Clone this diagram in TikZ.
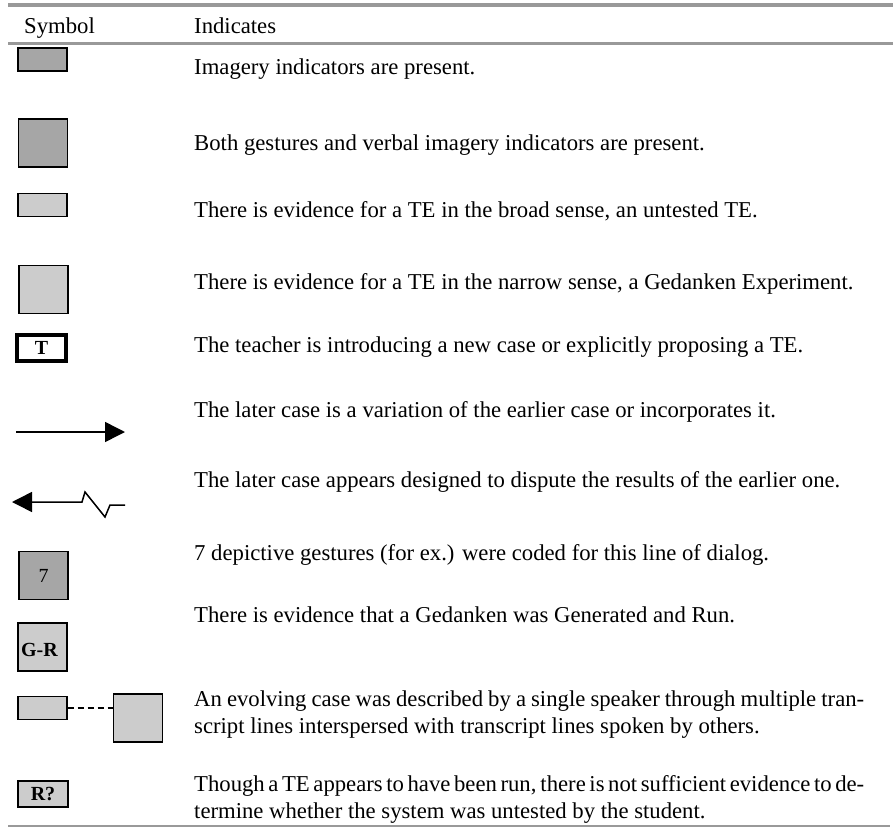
\documentclass[tikz,border=0pt]{standalone}
\usepackage{fontspec}
\setmainfont{Liberation Serif}
\usetikzlibrary{arrows.meta,positioning}

\definecolor{darkfill}{gray}{0.65}
\definecolor{lightfill}{gray}{0.8}
\definecolor{rulegray}{gray}{0.6}
\newcommand\tightspaces{\spaceskip=0.25em plus 0.15em minus 0.15em\relax}

\begin{document}
\begin{tikzpicture}[x=1pt,y=-1pt,>={Triangle[length=20pt,width=20pt]},
  font=\fontsize{22.7}{27}\selectfont,
  dark box/.style={rectangle,fill=darkfill,draw,line width=1.3pt,inner sep=0pt},
  light box/.style={rectangle,fill=lightfill,draw,line width=1.3pt,inner sep=0pt},
  flat box/.style={minimum width=49pt,minimum height=23pt},
  sq box/.style={minimum width=49pt,minimum height=48pt},
  desc node/.style={anchor=base west,inner sep=0pt,align=left},
  para node/.style={desc node,text width=670pt,align=justify,
    font=\fontsize{22.7}{27}\selectfont\tightspaces},
  tag/.style={font=\fontsize{20}{24}\selectfont\bfseries}]

  \useasboundingbox (0,0) rectangle (893,829);

  % rules of the table
  \draw[rulegray,line width=3.5pt] (8,5) -- (893,5);
  \draw[rulegray,line width=3pt] (8,43.5) -- (893,43.5);
  \draw[rulegray,line width=1.2pt] (8,826) -- (890,826);

  \node[desc node] (h1) at (24,34) {Symbol};
  \node[desc node] (h2) at (194,34) {Indicates};

  % symbols
  \node[dark box,flat box] (s1) at (42.5,59.5) {};
  \node[dark box,sq box] (s2) at (43,143) {};
  \node[light box,flat box] (s3) at (42.5,205) {};
  \node[light box,sq box] (s4) at (43.5,289.5) {};
  \node[rectangle,draw,fill=white,line width=4pt,minimum width=49pt,
    minimum height=26pt,tag] (s5) at (41.5,348) {T};
  \coordinate (a1) at (16,432);
  \coordinate (a2) at (125,432);
  \coordinate (z1) at (125,505);
  \coordinate (z2) at (12,502);
  \node[dark box,sq box,font=\fontsize{20}{24}\selectfont] (s8) at (43.5,575.5) {7};
  \node[light box,sq box] (s9) at (42.5,647) {};
  \node[tag] (g9) at (39.5,650) {G-R};
  \node[light box,flat box] (s10) at (42.5,708) {};
  \node[light box,sq box] (t10) at (138,718) {};
  \node[light box,minimum width=50pt,minimum height=26pt,tag] (s11) at (43,794) {R?};

  \draw[->,line width=1.5pt] (a1) -- (a2);
  \draw[->,line width=1.5pt] (z1) -- (110,505) -- (105,517) -- (85,492) -- (82,502) -- (z2);
  \draw[dashed,dash pattern=on 6pt off 4pt,line width=1.3pt]
    (s10.east) -- (s10.east -| t10.west);

  % what each symbol indicates
  \node[desc node] (i1) at (194,75) {Imagery indicators are present.};
  \node[desc node] (i2) at (194,151) {Both gestures and verbal imagery indicators are present.};
  \node[desc node] (i3) at (194,217) {There is evidence for a TE in the broad sense, an untested TE.};
  \node[desc node] (i4) at (194,289) {There is evidence for a TE in the narrow sense, a Gedanken Experiment.};
  \node[desc node] (i5) at (194,352) {The teacher is introducing a new case or explicitly proposing a TE.};
  \node[desc node] (i6) at (194,417) {The later case is a variation of the earlier case or incorporates it.};
  \node[desc node] (i7) at (194,487) {The later case appears designed to dispute the results of the earlier one.};
  \node[desc node] (i8) at (194,560) {7 depictive gestures (for ex.) were coded for this line of dialog.};
  \node[desc node] (i9) at (194,622) {There is evidence that a Gedanken was Generated and Run.};
  \node[para node] (i10) at (194,706) {An evolving case was described by a single speaker through multiple tran-\linebreak
    script lines interspersed with transcript lines spoken by others.};
  \node[para node] (i11) at (194,791) {Though a TE appears to have been run, there is not sufficient evidence to de-\linebreak
    termine whether the system was untested by the student.};

\end{tikzpicture}
\end{document}
